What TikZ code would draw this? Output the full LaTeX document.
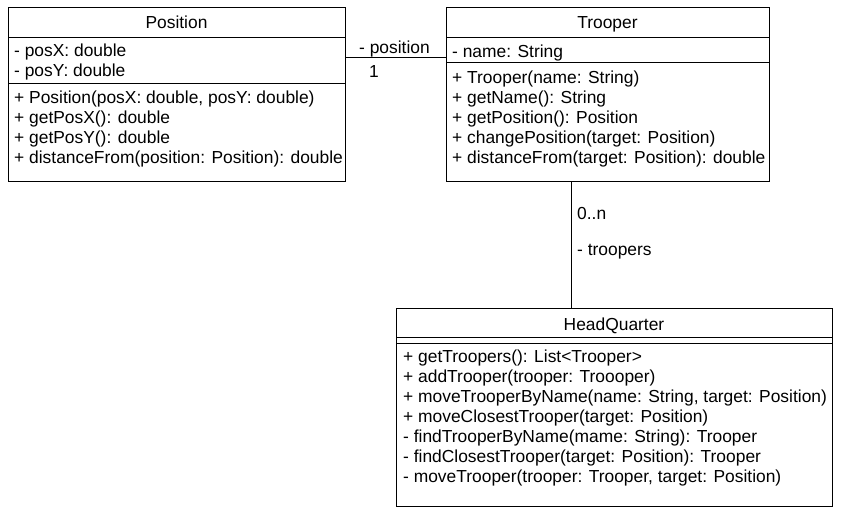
\documentclass[tikz,border=0pt]{standalone}
\usepackage{fontspec}
\setmainfont{Liberation Sans}
\begin{document}
\begin{tikzpicture}[x=1pt,y=-1pt,
  box/.style={draw,line width=1pt,anchor=north west,inner sep=0,outer sep=0},
  sep/.style={line width=1pt},
  conn/.style={line width=1pt},
  txt/.style={anchor=mid west,inner sep=0,yshift=-4.5pt,font=\fontsize{17.4}{20}\selectfont},
  ttl/.style={anchor=mid,inner sep=0,yshift=-4pt,font=\fontsize{17.4}{20}\selectfont}]
\useasboundingbox[fill=white] (0,0) rectangle (841,514);
% Position
\node[box,minimum width=337pt,minimum height=174pt] (pos) at (8,7) {};
\draw[sep] (8,37) -- (345,37);
\draw[sep] (8,83) -- (345,83);
\node[ttl] (posT) at (176.5,22) {Position};
\node[txt] (p1) at (14,49) {- posX: double};
\node[txt] (p2) at (14,69) {- posY: double};
\node[txt] (p3) at (14,96) {+ Position(posX: double, posY: double)};
\node[txt] (p4) at (14,116) {+ getPosX(): double};
\node[txt] (p5) at (14,136) {+ getPosY(): double};
\node[txt] (p6) at (14,156) {+ distanceFrom(position: Position): double};
% Trooper
\node[box,minimum width=323pt,minimum height=174pt] (tr) at (446,7) {};
\draw[sep] (446,37) -- (769,37);
\draw[sep] (446,62) -- (769,62);
\node[ttl] (trT) at (607.5,22) {Trooper};
\node[txt] (t1) at (452,50) {- name: String};
\node[txt] (t2) at (452,76) {+ Trooper(name: String)};
\node[txt] (t3) at (452,96) {+ getName(): String};
\node[txt] (t4) at (452,116) {+ getPosition(): Position};
\node[txt] (t5) at (452,136) {+ changePosition(target: Position)};
\node[txt] (t6) at (452,156) {+ distanceFrom(target: Position): double};
% HeadQuarter
\node[box,minimum width=436pt,minimum height=198pt] (hq) at (396,308) {};
\draw[sep] (396,337) -- (832,337);
\draw[sep] (396,343) -- (832,343);
\node[ttl] (hqT) at (614,324) {HeadQuarter};
\node[txt] (h1) at (403,355) {+ getTroopers(): List<Trooper>};
\node[txt] (h2) at (403,375) {+ addTrooper(trooper: Troooper)};
\node[txt] (h3) at (403,395) {+ moveTrooperByName(name: String, target: Position)};
\node[txt] (h4) at (403,415) {+ moveClosestTrooper(target: Position)};
\node[txt] (h5) at (403,435) {- findTrooperByName(mame: String): Trooper};
\node[txt] (h6) at (403,455) {- findClosestTrooper(target: Position): Trooper};
\node[txt] (h7) at (403,475) {- moveTrooper(trooper: Trooper, target: Position)};
% connectors
\coordinate (a1) at (345,57);
\coordinate (a2) at (446,57);
\draw[conn] (a1) -- (a2);
\node[txt] (l1) at (359,46) {- position};
\node[txt] (l2) at (369,70) {1};
\coordinate (b1) at (571,181);
\coordinate (b2) at (571,308);
\draw[conn] (b1) -- (b2);
\node[txt] (l3) at (577,212) {0..n};
\node[txt] (l4) at (577,248) {- troopers};
\end{tikzpicture}
\end{document}
